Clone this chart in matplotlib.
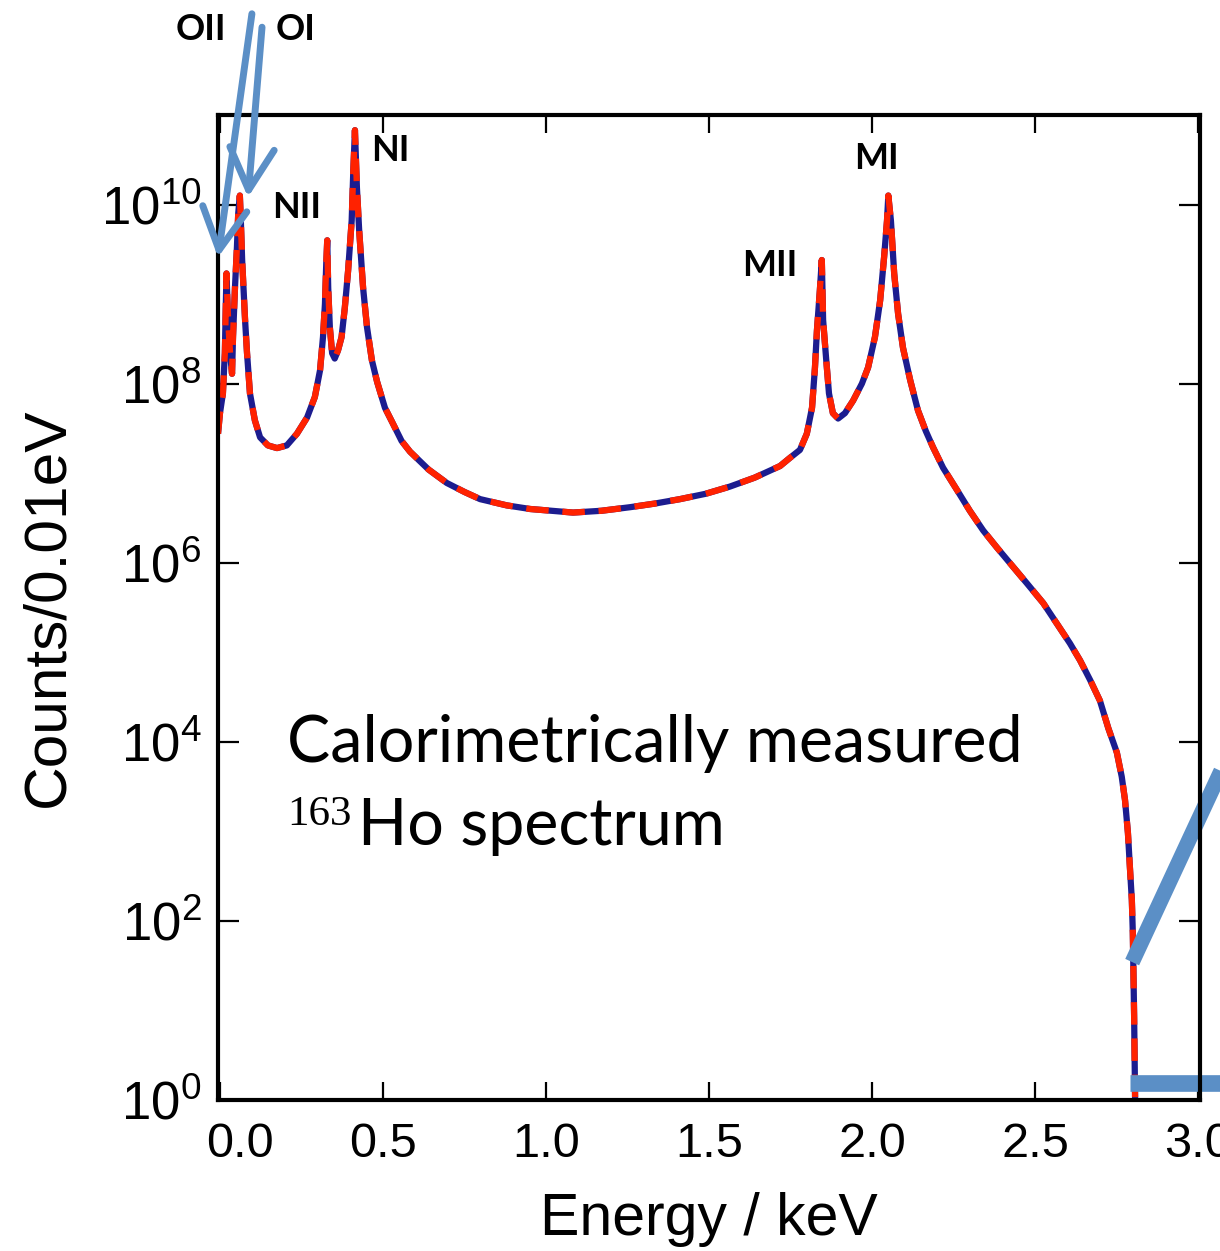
import numpy as np
import matplotlib
matplotlib.use("Agg")
from matplotlib import pyplot as plt
from matplotlib.patches import ArrowStyle
from matplotlib.transforms import ScaledTranslation

plt.rcParams['font.family'] = ['Liberation Sans', 'DejaVu Sans']
plt.rcParams['mathtext.default'] = 'regular'

# energy in keV, counts as log10(counts / 0.01 eV)
energy = [-0.006, 0.000, 0.009, 0.015, 0.018, 0.020, 0.025, 0.031, 0.037, 0.040,
          0.046, 0.052, 0.056, 0.061, 0.064, 0.068, 0.077, 0.083, 0.092, 0.107,
          0.123, 0.147, 0.175, 0.205, 0.236, 0.267, 0.291, 0.307, 0.316, 0.322,
          0.326, 0.329, 0.332, 0.337, 0.344, 0.352, 0.362, 0.373, 0.383, 0.393,
          0.404, 0.409, 0.414, 0.420, 0.427, 0.439, 0.451, 0.466, 0.482, 0.506,
          0.531, 0.557, 0.583, 0.640, 0.696, 0.750, 0.798, 0.880, 0.951, 1.083,
          1.170, 1.258, 1.333, 1.411, 1.490, 1.564, 1.640, 1.718, 1.748, 1.779,
          1.800, 1.816, 1.825, 1.831, 1.840, 1.846, 1.850, 1.859, 1.868, 1.880,
          1.896, 1.917, 1.942, 1.969, 1.988, 2.009, 2.025, 2.037, 2.046, 2.050,
          2.058, 2.068, 2.080, 2.095, 2.117, 2.141, 2.165, 2.187, 2.218, 2.261,
          2.300, 2.341, 2.383, 2.429, 2.475, 2.525, 2.567, 2.607, 2.638, 2.669,
          2.699, 2.725, 2.751, 2.766, 2.776, 2.785, 2.791, 2.797, 2.800, 2.804,
          2.807, 2.808]
log_counts = [7.44, 7.67, 7.89, 8.34, 8.89, 9.23, 8.71, 8.34, 8.11, 8.52,
              9.07, 9.52, 9.90, 10.10, 9.82, 9.38, 8.71, 8.34, 7.89, 7.59,
              7.40, 7.31, 7.28, 7.31, 7.44, 7.62, 7.85, 8.15, 8.52, 8.89,
              9.34, 9.60, 9.07, 8.63, 8.34, 8.28, 8.37, 8.52, 8.85, 9.26,
              9.82, 10.38, 10.83, 10.19, 9.71, 9.07, 8.63, 8.26, 8.02, 7.73,
              7.55, 7.36, 7.24, 7.04, 6.89, 6.79, 6.71, 6.64, 6.60, 6.56,
              6.58, 6.62, 6.66, 6.71, 6.77, 6.85, 6.95, 7.08, 7.17, 7.26,
              7.44, 7.73, 8.18, 8.59, 9.04, 9.38, 8.71, 8.29, 7.89, 7.67,
              7.61, 7.67, 7.81, 8.00, 8.18, 8.52, 8.93, 9.41, 9.82, 10.10,
              9.82, 9.23, 8.78, 8.40, 8.04, 7.70, 7.47, 7.29, 7.06, 6.81,
              6.58, 6.36, 6.17, 5.97, 5.77, 5.55, 5.32, 5.10, 4.91, 4.69,
              4.46, 4.15, 3.88, 3.61, 3.35, 2.98, 2.60, 2.23, 1.86, 0.93,
              0.00, -0.50]
counts = 10.0 ** np.array(log_counts)

# peak labels: (text, energy, log10 counts) of the label centre
peak_labels = [("OII", -0.058, 11.95), ("OI", 0.233, 11.95),
               ("NII", 0.236, 9.97), ("NI", 0.521, 10.60),
               ("MII", 1.687, 9.32), ("MI", 2.015, 10.51)]

# arrows pointing at the O lines: (tail, tip) in energy / log10 counts
o_arrows = [((0.098, 12.13), (-0.006, 9.41)),
            ((0.129, 11.98), (0.086, 10.08))]

xticks = [0.0, 0.5, 1.0, 1.5, 2.0, 2.5, 3.0]
yticks = [1e0, 1e2, 1e4, 1e6, 1e8, 1e10]

arrow_col = "#5b8fc6"

fig = plt.figure(figsize=(12.2, 12.51), dpi=100)
ax = fig.add_axes([0.1787, 0.1207, 0.8049, 0.7874])

ax.plot(energy, counts, color="#1c1c8f", lw=4.5, solid_capstyle='butt')
ax.plot(energy, counts, color="#ff2200", lw=4.5, dashes=(3.6, 2.2),
        dash_capstyle='butt')

ax.set_yscale('log')
ax.set_xlim(-0.006, 3.006)
ax.set_ylim(1, 1e11)
ax.set_xticks(xticks)
ax.set_xticklabels(["%.1f" % t for t in xticks])
ax.set_yticks(yticks)
ax.minorticks_off()
ax.tick_params(axis='both', direction='in', top=True, right=True,
               width=1.6, colors='black')
ax.tick_params(axis='x', length=13, pad=16, labelsize=35)
ax.tick_params(axis='y', length=15, pad=12, labelsize=38)
for sp in ax.spines.values():
    sp.set_linewidth(3)

# the 0.0 label sits a little to the right, clear of 10^0
lab0 = ax.get_xticklabels()[0]
lab0.set_transform(lab0.get_transform() +
                   ScaledTranslation(0.2, 0, fig.dpi_scale_trans))

ax.set_xlabel("Energy / keV", fontsize=42.5, labelpad=18)
ax.set_ylabel("Counts/0.01eV", fontsize=43.5, labelpad=18)

for txt, xe, ly in peak_labels:
    ax.text(xe, 10 ** ly, txt, fontsize=26, fontweight='bold', family='Lato',
            ha='center', va='center', clip_on=False)

for (tx, ty), (hx, hy) in o_arrows:
    ax.annotate("", xy=(hx, 10 ** hy), xytext=(tx, 10 ** ty),
                annotation_clip=False,
                arrowprops=dict(arrowstyle=ArrowStyle('->', head_length=3.0,
                                                      head_width=1.6),
                                mutation_scale=10, lw=5, color=arrow_col,
                                shrinkA=0, shrinkB=0))

# callout lines towards the end point
ax.plot([2.798, 3.19], [10 ** 1.54, 10 ** 4.61], color=arrow_col, lw=11,
        clip_on=False, solid_capstyle='butt')
ax.plot([2.791, 3.19], [10 ** 0.19, 10 ** 0.19], color=arrow_col, lw=12,
        clip_on=False, solid_capstyle='butt')

ax.text(0.206, 10 ** 3.77, "Calorimetrically measured", fontsize=46.5,
        family='Lato', ha='left', va='baseline')
ax.text(0.206, 10 ** 3.07, "163", fontsize=31, family='Liberation Serif',
        ha='left', va='baseline')
ax.text(0.423, 10 ** 2.85, "Ho spectrum", fontsize=46.5, family='Lato',
        ha='left', va='baseline')

fig.savefig("out.png", dpi=100)
